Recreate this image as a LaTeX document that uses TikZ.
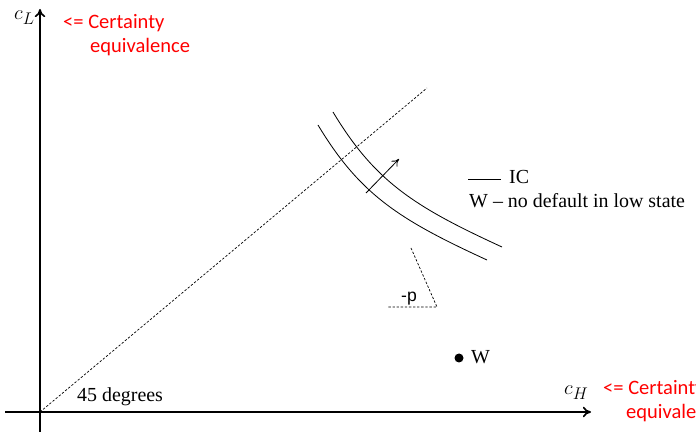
\documentclass[tikz,border=0pt]{standalone}
\usepackage{fontspec}
\setmainfont{Liberation Serif}
\setsansfont{Liberation Sans}
\newfontfamily\calibri{Carlito}
\usetikzlibrary{arrows.meta}

\begin{document}
\begin{tikzpicture}[
        x=0.03cm, y=-0.03cm,
        axis/.style={line width=1.4pt, -{To[length=7pt,width=9pt]}},
        curve/.style={line width=0.7pt},
        guide/.style={line width=0.6pt, dash pattern=on 2pt off 1.5pt},
        redtext/.style={text=red, font=\calibri\fontsize{17.5}{21}\selectfont, inner sep=0pt, anchor=base west},
        serif/.style={font=\fontsize{17}{20}\selectfont, inner sep=0pt, anchor=base west},
        mathlbl/.style={font=\fontsize{19}{21}\selectfont, inner sep=0pt, anchor=base west}
    ]
    \useasboundingbox (0,0) rectangle (696,432);

    % Axes
    \coordinate (origin) at (40,412);
    \coordinate (xleft) at (5,412);
    \coordinate (xend) at (591,412);
    \coordinate (ybot) at (40,432);
    \coordinate (yend) at (40,9);
    \draw[axis] (xleft) -- (xend);
    \draw[axis] (ybot) -- (yend);
    \node[mathlbl] (cL) at (14,20) {$c_L$};
    \node[mathlbl] (cH) at (564,395) {$c_H$};

    % Certainty equivalence notes
    \node[redtext] (ceL1) at (63,29) {<= Certainty};
    \node[redtext] (ceL2) at (90,53) {equivalence};
    \node[redtext] (ceH1) at (603,395) {<= Certainty};
    \node[redtext] (ceH2) at (626,419) {equivalence};

    % 45 degree line
    \coordinate (diagend) at (427,88);
    \draw[guide] (origin) -- (diagend);
    \node[serif] (deg) at (77,402) {45 degrees};

    % Indifference curves
    \draw[curve] (318,125) .. controls (360,195) and (400,220) .. (487,260);
    \draw[curve] (333,112) .. controls (375,182) and (415,207) .. (502,247);
    \coordinate (arrfrom) at (366,193);
    \coordinate (arrto) at (399,159);
    \draw[curve, -{To[length=6pt,width=7pt]}] (arrfrom) -- (arrto);

    % Slope marker
    \coordinate (slopetop) at (411,248);
    \coordinate (slopecorner) at (437,307);
    \coordinate (slopeleft) at (388,307);
    \draw[guide] (slopetop) -- (slopecorner) -- (slopeleft);
    \node[font=\sffamily\fontsize{15}{18}\selectfont, inner sep=0pt, anchor=base west] (slope) at (401,302) {-p};

    % Legend
    \coordinate (legA) at (468,179);
    \coordinate (legB) at (501,179);
    \draw[curve] (legA) -- (legB);
    \node[serif] (ic) at (509,184) {IC};
    \node[serif] (wnote) at (469,208) {W -- no default in low state};

    % Endowment
    \fill (459,358) circle (4.5) coordinate (W);
    \node[serif] (wlbl) at (471,364) {W};

\end{tikzpicture}
\end{document}
